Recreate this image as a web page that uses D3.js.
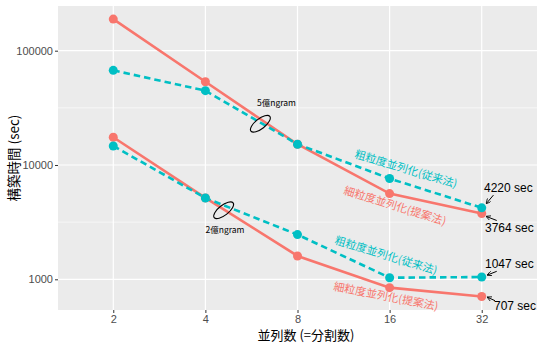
<!DOCTYPE html>
<html>
<head>
<meta charset="utf-8">
<script src="https://cdn.jsdelivr.net/npm/d3@7"></script>
<style>
  body { margin: 0; background: #fff; }
  svg text { font-family: "Liberation Sans", Arial, sans-serif; }
  .jp { font-family: "Noto Sans CJK JP", "Noto Sans", sans-serif; }
</style>
</head>
<body>
<div id="chart"></div>
<script>
const threads = [2, 4, 8, 16, 32];
const xTicks = [2, 4, 8, 16, 32];
const yTicks = [1000, 10000, 100000];
const yMinor = [316.23, 3162.3, 31623];

// 5億ngram
const big = {
  proposed: [189000, 53500, 15200, 5625, 3764],
  conventional: [67300, 44700, 15200, 7610, 4220],
};
// 2億ngram
const small = {
  proposed: [17500, 5150, 1600, 845, 707],
  conventional: [14660, 5145, 2460, 1032, 1047],
};

const endLabels = ["4220 sec", "3764 sec", "1047 sec", "707 sec"];
const seriesNames = {
  proposed: "細粒度並列化(提案法)",
  conventional: "粗粒度並列化(従来法)",
};
const groupNames = ["5億ngram", "2億ngram"];

const colors = { proposed: "#F8766D", conventional: "#00BFC4" };

const width = 537;
const height = 345;
const panel = { left: 58, right: 537, top: 6, bottom: 310 };

const x = d3
  .scaleLog()
  .base(2)
  .domain([Math.pow(2, 0.4), Math.pow(2, 5.6)])
  .range([panel.left, panel.right]);
const y = d3
  .scaleLog()
  .domain([Math.pow(10, 2.7314), Math.pow(10, 5.391)])
  .range([panel.bottom, panel.top]);

const svg = d3
  .select("#chart")
  .append("svg")
  .attr("width", width)
  .attr("height", height);

svg
  .append("defs")
  .append("marker")
  .attr("id", "arrow")
  .attr("viewBox", "0 0 10 10")
  .attr("refX", 9)
  .attr("refY", 5)
  .attr("markerWidth", 5)
  .attr("markerHeight", 5)
  .attr("markerUnits", "userSpaceOnUse")
  .attr("orient", "auto")
  .append("path")
  .attr("d", "M0,0L10,5L0,10")
  .attr("fill", "none")
  .attr("stroke", "#000")
  .attr("stroke-width", 1.6);

svg
  .append("rect")
  .attr("x", panel.left)
  .attr("y", panel.top)
  .attr("width", panel.right - panel.left)
  .attr("height", panel.bottom - panel.top)
  .attr("fill", "#EBEBEB");

const grid = svg.append("g").attr("stroke", "#fff");
grid
  .selectAll(".minor")
  .data(yMinor)
  .join("line")
  .attr("x1", panel.left)
  .attr("x2", panel.right)
  .attr("y1", (d) => y(d))
  .attr("y2", (d) => y(d))
  .attr("stroke-width", 0.6);
grid
  .selectAll(".ymajor")
  .data(yTicks)
  .join("line")
  .attr("class", "ymajor")
  .attr("x1", panel.left)
  .attr("x2", panel.right)
  .attr("y1", (d) => y(d))
  .attr("y2", (d) => y(d))
  .attr("stroke-width", 1.2);
grid
  .selectAll(".xmajor")
  .data(xTicks)
  .join("line")
  .attr("class", "xmajor")
  .attr("x1", (d) => x(d))
  .attr("x2", (d) => x(d))
  .attr("y1", panel.top)
  .attr("y2", panel.bottom)
  .attr("stroke-width", 1.2);

// axes
const xAxis = svg
  .append("g")
  .attr("transform", `translate(0,${panel.bottom})`)
  .call(
    d3.axisBottom(x).tickValues(xTicks).tickFormat(d3.format("d")).tickSize(3).tickPadding(2)
  );
const yAxis = svg
  .append("g")
  .attr("transform", `translate(${panel.left},0)`)
  .call(
    d3.axisLeft(y).tickValues(yTicks).tickFormat(d3.format("d")).tickSize(3).tickPadding(2)
  );
[xAxis, yAxis].forEach((g) => {
  g.select(".domain").remove();
  g.selectAll(".tick line").attr("stroke", "#333").attr("stroke-width", 1);
  g.selectAll(".tick text")
    .attr("fill", "#4D4D4D")
    .style("font-size", "11px")
    .style("font-family", "Liberation Sans, Arial, sans-serif");
});

svg
  .append("text")
  .attr("class", "jp")
  .attr("x", 306)
  .attr("y", 340)
  .attr("text-anchor", "middle")
  .style("font-size", "13px")
  .text("並列数 (=分割数)");
svg
  .append("text")
  .attr("class", "jp")
  .attr("transform", `translate(19,${(panel.top + panel.bottom) / 2}) rotate(-90)`)
  .attr("text-anchor", "middle")
  .style("font-size", "13.5px")
  .text("構築時間 (sec)");

// series
const series = [];
[big, small].forEach((grp, gi) => {
  ["proposed", "conventional"].forEach((key) => {
    series.push({
      group: gi,
      key,
      values: threads.map((t, i) => ({ t, v: grp[key][i] })),
    });
  });
});

const line = d3
  .line()
  .x((d) => x(d.t))
  .y((d) => y(d.v));

svg
  .append("g")
  .selectAll("path")
  .data(series)
  .join("path")
  .attr("d", (d) => line(d.values))
  .attr("fill", "none")
  .attr("stroke", (d) => colors[d.key])
  .attr("stroke-width", 2.6)
  .attr("stroke-dasharray", (d) => (d.key === "conventional" ? "6.5,4" : null));

svg
  .append("g")
  .selectAll("g")
  .data(series)
  .join("g")
  .attr("fill", (d) => colors[d.key])
  .selectAll("circle")
  .data((d) => d.values)
  .join("circle")
  .attr("cx", (d) => x(d.t))
  .attr("cy", (d) => y(d.v))
  .attr("r", 4.5);

// rotated series labels
const seriesLabels = [
  { key: "conventional", t: 18.1, v: 9230, angle: 16.6 },
  { key: "proposed", t: 16.66, v: 4395, angle: 17.2 },
  { key: "conventional", t: 15.57, v: 1622, angle: 17 },
  { key: "proposed", t: 15.57, v: 710, angle: 11 },
];
svg
  .append("g")
  .selectAll("text")
  .data(seriesLabels)
  .join("text")
  .attr("class", "jp")
  .attr("transform", (d) => `translate(${x(d.t)},${y(d.v)}) rotate(${d.angle})`)
  .attr("text-anchor", "middle")
  .attr("dy", "0.35em")
  .attr("fill", (d) => colors[d.key])
  .style("font-size", "11px")
  .text((d) => seriesNames[d.key]);

// end value labels with arrows
const last = threads.length - 1;
const ends = [
  { v: big.conventional[last], tx: 2.3, ty: -16.2, a: [11.7, -12.7, 4.7, -4.4] },
  { v: big.proposed[last], tx: 3.3, ty: 19, a: [15, 7, 4.7, 3] },
  { v: small.conventional[last], tx: 3.3, ty: -9.4, a: [15, -5.7, 5.7, -2] },
  { v: small.proposed[last], tx: 12.3, ty: 13.7, a: [13.3, 4.2, 5.7, 0.7] },
];
const endG = svg.append("g");
ends.forEach((d, i) => {
  const px = x(threads[last]);
  const py = y(d.v);
  endG
    .append("line")
    .attr("x1", px + d.a[0])
    .attr("y1", py + d.a[1])
    .attr("x2", px + d.a[2])
    .attr("y2", py + d.a[3])
    .attr("stroke", "#000")
    .attr("stroke-width", 1)
    .attr("marker-end", "url(#arrow)");
  endG
    .append("text")
    .attr("x", px + d.tx)
    .attr("y", py + d.ty)
    .style("font-size", "12px")
    .text(endLabels[i]);
});

// group annotations: ellipse + label
const groups = [
  { t: 6.05, v: 22950, name: groupNames[0] },
  { t: 4.59, v: 4020, name: groupNames[1] },
];
const annG = svg.append("g");
groups.forEach((d) => {
  annG
    .append("ellipse")
    .attr("transform", `translate(${x(d.t)},${y(d.v)}) rotate(-38)`)
    .attr("rx", 12)
    .attr("ry", 5)
    .attr("fill", "none")
    .attr("stroke", "#000")
    .attr("stroke-width", 1.1);
});
annG
  .append("text")
  .attr("class", "jp")
  .attr("x", 276.5)
  .attr("y", 106)
  .attr("text-anchor", "middle")
  .style("font-size", "8.5px")
  .text(groupNames[0]);
annG
  .append("text")
  .attr("class", "jp")
  .attr("x", 225)
  .attr("y", 233)
  .attr("text-anchor", "middle")
  .style("font-size", "8.5px")
  .text(groupNames[1]);
</script>
</body>
</html>
